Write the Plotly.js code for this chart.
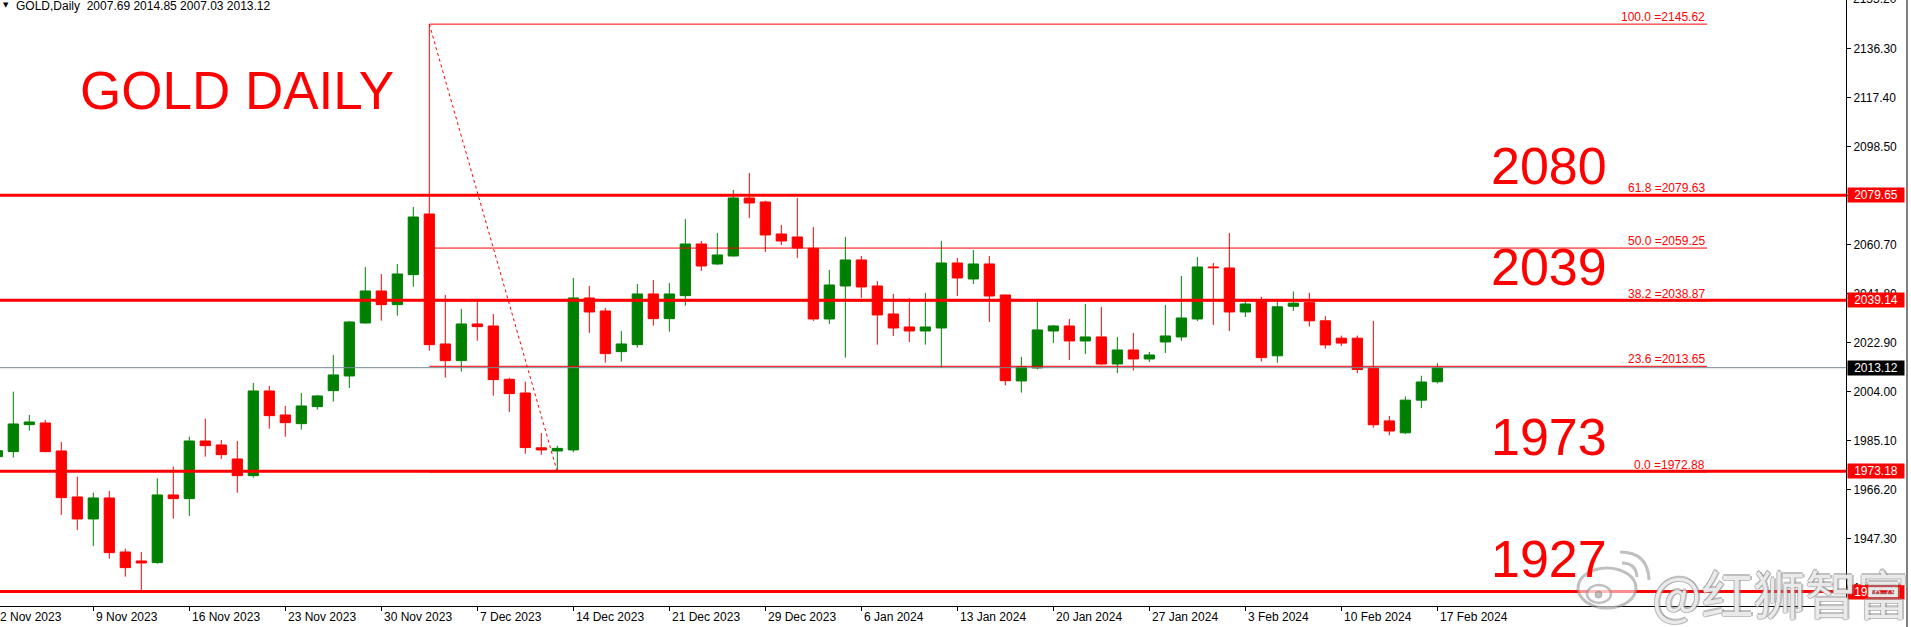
<!DOCTYPE html>
<html><head><meta charset="utf-8">
<script src="https://cdn.plot.ly/plotly-3.0.1.min.js"></script>
<style>html,body{margin:0;padding:0;background:#fff;overflow:hidden}#chart{width:1911px;height:627px}</style>
</head><body><div id="chart"></div>
<script>
// ---- data (daily OHLC, oldest first) ----
const opens  = [1978.8,1980.74,1991.15,1991.79,1981.0,1963.26,1954.77,1962.87,1942.04,1938.57,
                1937.93,1964.03,1962.61,1984.85,1983.31,1977.91,1971.48,2004.14,1994.88,1991.54,
                1998.09,2004.26,2009.92,2030.36,2042.70,2037.43,2049.0,2072.40,2022.26,2015.84,
                2029.98,2029.2,2008.64,2003.36,1982.2,1981.0,1981.4,2040.0,2034.99,2019.31,
                2022.01,2041.55,2032.03,2040.9,2060.83,2053.12,2056.2,2078.57,2077.03,2064.69,
                2063.53,2059.16,2031.9,2044.63,2054.66,2044.63,2033.83,2028.82,2027.28,2028.43,
                2053.5,2047.33,2053.12,2041.16,2008.0,2013.01,2027.28,2029.21,2023.42,2024.97,
                2014.55,2019.95,2016.48,2023.04,2024.97,2031.9,2051.96,2051.57,2034.6,2038.7,
                2017.7,2036.8,2038.2,2031.2,2024.5,2024.5,2013.0,1992.6,1988.0,2000.6,2007.69];
const highs  = [1982.5,2003.88,1994.88,1992.95,1984.47,1971.1,1964.93,1965.57,1943.33,1942.04,
                1970.46,1974.95,1986.52,1993.47,1985.24,1984.85,2007.22,2006.06,1998.35,2003.36,
                2002.6,2018.02,2031.13,2051.96,2049.26,2053.12,2075.10,2145.62,2041.16,2035.76,
                2038.59,2033.83,2009.28,2007.74,1987.9,1983.0,2047.72,2044.63,2036.15,2027.28,
                2045.40,2046.95,2045.79,2070.47,2061.99,2065.07,2081.65,2088.21,2077.5,2068.16,
                2078.57,2067.38,2050.8,2063.53,2056.2,2046.56,2041.55,2040.0,2041.93,2061.99,
                2055.43,2058.52,2056.2,2041.3,2017.25,2038.46,2029.6,2031.91,2037.69,2036.53,
                2024.97,2026.51,2019.18,2037.31,2048.49,2055.81,2053.5,2065.07,2039.23,2040.5,
                2039.0,2042.5,2042.0,2033.0,2025.5,2025.5,2031.2,1994.5,2002.0,2010.0,2014.85];
const lows   = [1977.0,1978.43,1988.84,1980.5,1956.31,1950.53,1944.36,1939.47,1932.53,1926.8,
                1937.5,1954.9,1955.93,1978.81,1977.91,1964.93,1970.71,1989.61,1986.52,1989.22,
                1996.94,2000.02,2005.29,2030.1,2031.26,2033.19,2044.37,2019.69,2009.28,2011.59,
                2023.55,2002.34,1996.0,1979.9,1979.5,1972.88,1980.5,2026.51,2015.06,2015.45,
                2020.85,2029.33,2027.02,2037.05,2050.42,2052.73,2056.0,2070.86,2057.74,2060.44,
                2055.43,2031.13,2029.98,2017.0,2040.0,2022.0,2025.35,2023.0,2022.0,2013.0,
                2040.77,2045.4,2030.75,2006.3,2003.5,2012.5,2022.65,2016.1,2018.41,2014.17,
                2011.0,2012.0,2015.32,2018.8,2023.42,2031.13,2029.59,2027.28,2032.68,2015.5,
                2015.0,2035.0,2029.0,2020.5,2021.5,2011.0,1990.0,1987.0,1987.5,1997.5,2007.03];
const closes = [1981.1,1991.41,1992.18,1980.74,1963.0,1954.77,1962.87,1941.79,1936.0,1937.80,
                1964.03,1962.61,1984.85,1983.05,1979.58,1971.48,2004.14,1994.62,1991.92,1998.35,
                2002.21,2010.31,2030.75,2042.70,2037.43,2049.26,2071.24,2022.01,2015.84,2029.98,
                2028.95,2008.51,2003.11,1982.3,1981.4,1982.0,2040.0,2034.6,2018.54,2022.26,
                2041.55,2032.03,2041.55,2060.83,2052.34,2056.59,2078.57,2076.64,2064.30,2061.99,
                2059.29,2031.9,2045.02,2054.66,2044.25,2033.45,2028.43,2027.28,2028.82,2053.5,
                2047.72,2053.12,2040.77,2008.1,2013.53,2027.67,2029.21,2023.42,2024.97,2014.55,
                2019.95,2016.48,2018.02,2025.35,2032.29,2051.96,2051.7,2034.6,2037.69,2017.0,
                2036.6,2038.0,2031.2,2021.9,2022.6,2012.4,1991.1,1988.7,2000.6,2007.6,2013.12];

const tickIdx    = [0,6,12,18,24,30,36,42,48,54,60,66,72,78,84,90];
const tickLabels = ["2 Nov 2023","9 Nov 2023","16 Nov 2023","23 Nov 2023","30 Nov 2023","7 Dec 2023",
                    "14 Dec 2023","21 Dec 2023","29 Dec 2023","6 Jan 2024","13 Jan 2024","20 Jan 2024",
                    "27 Jan 2024","3 Feb 2024","10 Feb 2024","17 Feb 2024"];
const priceTicks = [2155.20,2136.30,2117.40,2098.50,2079.60,2060.70,2041.80,2022.90,2004.00,1985.10,1966.20,1947.30,1928.40];

const fibLevels = [100.0, 61.8, 50.0, 38.2, 23.6, 0.0];
const fibPrices = [2145.62, 2079.63, 2059.25, 2038.87, 2013.65, 1972.88];
const fibHighBar = 27, fibLowBar = 35;

const levelPrices = [2079.65, 2039.14, 1973.18, 1926.79];
const levelTexts  = ["2080", "2039", "1973", "1927"];
const bidPrice = 2013.12;
const headerText = "GOLD,Daily\u00a0\u00a02007.69 2014.85 2007.03 2013.12";
const titleText = "GOLD DAILY";
const watermark = "@红狮智富";

// ---- layout geometry ----
const W = 1911, H = 627, ML = 0, MR = 65, MT = 0, MB = 21;
const PW = W - ML - MR, PH = H - MT - MB;
const xRange = [0.169, 115.54];
const yRange = [1921.2, 2154.93];
const px = v => v / PW;              // pixel -> paper x
const py = v => 1 - v / PH;          // pixel -> paper y
const xp = i => (i - xRange[0]) / (xRange[1] - xRange[0]);
const yp = p => (p - yRange[0]) / (yRange[1] - yRange[0]);
const fibEnd = 106.86;

const RED = '#ff0000', GREEN = '#008000';
const FONT = 'Liberation Sans, Arial, sans-serif';
const idx = opens.map((_, i) => i);

const trace = {
  type: 'candlestick', x: idx, open: opens, high: highs, low: lows, close: closes,
  increasing: {line: {color: GREEN, width: 1}, fillcolor: GREEN},
  decreasing: {line: {color: RED, width: 1}, fillcolor: RED},
  whiskerwidth: 0, hoverinfo: 'skip', showlegend: false
};

const shapes = [];
shapes.push({type:'line', xref:'x', yref:'y', x0:fibHighBar, y0:fibPrices[0], x1:fibLowBar, y1:fibPrices[5],
  line:{color:RED, width:1, dash:'dot'}, layer:'above'});
fibPrices.forEach(p => shapes.push({type:'line', xref:'x', yref:'y', x0:fibHighBar, x1:fibEnd, y0:p, y1:p,
  line:{color:RED, width:1}, layer:'above'}));
shapes.push({type:'line', xref:'paper', yref:'y', x0:0, x1:1, y0:bidPrice, y1:bidPrice,
  line:{color:'#778899', width:1}, layer:'above'});
levelPrices.forEach(p => shapes.push({type:'line', xref:'paper', yref:'y', x0:0, x1:1, y0:p, y1:p,
  line:{color:RED, width:3}, layer:'above'}));
shapes.push({type:'line', xref:'paper', yref:'paper', x0:px(1907), x1:px(1907), y0:py(H), y1:1,
  line:{color:'#000', width:1}, layer:'above'});

const ann = [];
ann.push({xref:'paper', yref:'paper', x:px(1), y:py(5.5), xanchor:'left', yanchor:'middle', showarrow:false,
  text:'\u25BC', font:{family:'DejaVu Sans', size:7, color:'#000'}});
ann.push({xref:'paper', yref:'paper', x:px(14), y:py(6), xanchor:'left', yanchor:'middle', showarrow:false,
  text:headerText, font:{family:FONT, size:12, color:'#000'}});
ann.push({xref:'paper', yref:'paper', x:px(78), y:py(91), xanchor:'left', yanchor:'middle', showarrow:false,
  text:titleText, font:{family:FONT, size:53, color:RED}});
const levelTextY = [166, 266.5, 436.5, 559];
levelTexts.forEach((t, k) => ann.push({xref:'paper', yref:'paper', x:px(1609), y:py(levelTextY[k]),
  xanchor:'right', yanchor:'middle', showarrow:false, text:t, font:{family:FONT, size:52, color:RED}}));
fibLevels.forEach((l, k) => ann.push({xref:'x', yref:'y', x:fibEnd, y:fibPrices[k], xanchor:'right', yanchor:'bottom',
  yshift:-2, showarrow:false, text:l.toFixed(1) + ' =' + fibPrices[k].toFixed(2), font:{family:FONT, size:12, color:RED}}));
tickIdx.forEach((t, k) => ann.push({xref:'paper', yref:'paper', x:xp(t), y:0, xanchor:'left', yanchor:'top',
  xshift:1, yshift:-2, showarrow:false, text:tickLabels[k], font:{family:FONT, size:12, color:'#000'}}));
ann.push({xref:'paper', yref:'paper', x:1, y:yp(priceTicks[0]), xanchor:'left', yanchor:'middle', xshift:5,
  showarrow:false, text:priceTicks[0].toFixed(2), font:{family:FONT, size:12, color:'#000'}});
const boxes = levelPrices.map(p => [p, RED]).concat([[bidPrice, '#000']]);
boxes.forEach(b => ann.push({xref:'paper', yref:'y', x:1, y:b[0], xanchor:'left', yanchor:'middle', xshift:1,
  showarrow:false, text:b[0].toFixed(2), bgcolor:b[1], width:54, height:12, borderpad:1,
  font:{family:FONT, size:12, color:'#fff'}}));

// watermark (outlined light text + weibo-like icon)
const WM_GRAY = 'rgba(140,140,140,0.55)';
[[-1.5,0],[1.5,0],[0,-1.5],[0,1.5]].forEach(o => ann.push({xref:'paper', yref:'paper', x:px(1650), y:py(592),
  xanchor:'left', yanchor:'middle', xshift:o[0], yshift:o[1], showarrow:false, text:watermark,
  font:{family:'Noto Sans CJK SC', size:52, color:WM_GRAY}}));
ann.push({xref:'paper', yref:'paper', x:px(1650), y:py(592), xanchor:'left', yanchor:'middle', showarrow:false,
  text:watermark, font:{family:'Noto Sans CJK SC', size:52, color:'rgba(255,255,255,0.8)'}});
shapes.push({type:'circle', xref:'paper', yref:'paper', x0:px(1578), x1:px(1636), y0:py(608), y1:py(568),
  line:{color:WM_GRAY, width:3}, fillcolor:'rgba(255,255,255,0.55)', layer:'above'});
shapes.push({type:'circle', xref:'paper', yref:'paper', x0:px(1587), x1:px(1611), y0:py(603), y1:py(585),
  line:{color:WM_GRAY, width:2.5}, fillcolor:'rgba(255,255,255,0.4)', layer:'above'});
shapes.push({type:'circle', xref:'paper', yref:'paper', x0:px(1595), x1:px(1602), y0:py(598), y1:py(591),
  line:{color:WM_GRAY, width:1}, fillcolor:WM_GRAY, layer:'above'});
shapes.push({type:'path', xref:'paper', yref:'paper', layer:'above', line:{color:WM_GRAY, width:3},
  path:`M ${px(1622)} ${py(563)} Q ${px(1636)} ${py(563)} ${px(1637)} ${py(577)}`});
shapes.push({type:'path', xref:'paper', yref:'paper', layer:'above', line:{color:WM_GRAY, width:3},
  path:`M ${px(1620)} ${py(552)} Q ${px(1648)} ${py(552)} ${px(1649)} ${py(580)}`});

const layout = {
  width: W, height: H, margin: {l:ML, r:MR, t:MT, b:MB, pad:0},
  paper_bgcolor: '#fff', plot_bgcolor: '#fff', showlegend: false,
  boxgap: 0.36, boxgroupgap: 0,
  xaxis: {range: xRange, showgrid:false, zeroline:false, showline:true, linecolor:'#000', linewidth:1,
    ticks:'outside', ticklen:4, tickcolor:'#000', tickvals: tickIdx, showticklabels:false,
    rangeslider:{visible:false}, fixedrange:true},
  yaxis: {range: yRange, side:'right', showgrid:false, zeroline:false, showline:true, linecolor:'#000', linewidth:1,
    ticks:'outside', ticklen:4, tickcolor:'#000', tickvals: priceTicks.slice(1),
    ticktext: priceTicks.slice(1).map(v => v.toFixed(2)), tickfont:{family:FONT, size:12, color:'#000'},
    fixedrange:true},
  shapes: shapes, annotations: ann, hovermode:false
};
Plotly.newPlot('chart', [trace], layout, {staticPlot:true, displayModeBar:false});
</script></body></html>
